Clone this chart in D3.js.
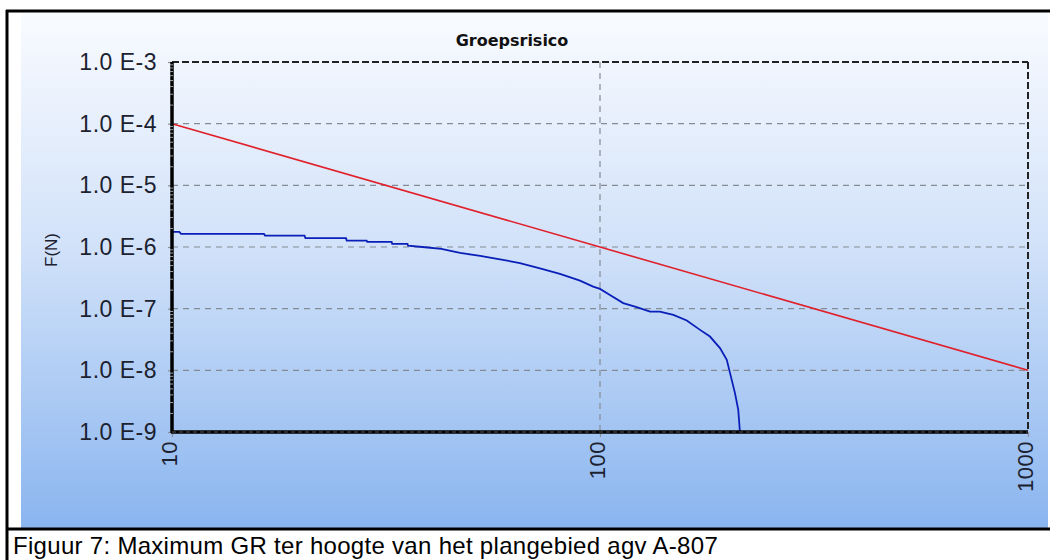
<!DOCTYPE html>
<html><head><meta charset="utf-8">
<script src="https://cdn.jsdelivr.net/npm/d3@7"></script>
<style>body{margin:0;background:#fff}svg{display:block}</style>
</head><body>
<svg id="c" width="1050" height="560"></svg>
<script>
const title = "Groepsrisico";
const yLabel = "F(N)";
const caption = "Figuur 7: Maximum GR ter hoogte van het plangebied agv A-807";
const xTicks = [10, 100, 1000];
const yTicks = [1e-3, 1e-4, 1e-5, 1e-6, 1e-7, 1e-8, 1e-9];
const yTickLabels = ["1.0 E-3","1.0 E-4","1.0 E-5","1.0 E-6","1.0 E-7","1.0 E-8","1.0 E-9"];
// oriëntatiewaarde (red)
const normN = [10, 1000];
const normF = [1e-4, 1e-8];
// groepsrisico curve (blue)
const grN = [10, 10.4, 10.5, 16.4, 16.5, 20.4, 20.5, 25.5, 25.6, 28.5, 28.6, 32.6, 32.7, 35.5, 35.6, 39, 42.6, 47.1, 52.5, 58.4, 65.0, 72.4, 80.6, 89.8, 96.4, 100, 105.5, 113.3, 121.8, 130.9, 138, 148.4, 159.5, 171.3, 180.7, 190.7, 197.8, 201.3, 206.7, 210.4, 212.3];
const grF = [1.76e-6, 1.76e-6, 1.63e-6, 1.63e-6, 1.53e-6, 1.53e-6, 1.39e-6, 1.39e-6, 1.27e-6, 1.27e-6, 1.21e-6, 1.21e-6, 1.12e-6, 1.12e-6, 1.05e-6, 9.9e-7, 9.3e-7, 8.0e-7, 7.2e-7, 6.3e-7, 5.5e-7, 4.5e-7, 3.66e-7, 2.85e-7, 2.28e-7, 2.09e-7, 1.67e-7, 1.23e-7, 1.06e-7, 8.97e-8, 8.97e-8, 7.94e-8, 6.42e-8, 4.53e-8, 3.53e-8, 2.29e-8, 1.48e-8, 9.0e-9, 4.27e-9, 2.29e-9, 1e-9];

const svg = d3.select("#c");
const defs = svg.append("defs");
const g = defs.append("linearGradient").attr("id","bg").attr("x1",0).attr("y1",0).attr("x2",0).attr("y2",1);
g.append("stop").attr("offset","0%").attr("stop-color","#f9fbff");
g.append("stop").attr("offset","45%").attr("stop-color","#d2e2f9");
g.append("stop").attr("offset","100%").attr("stop-color","#8ab5ef");

svg.append("rect").attr("x",21).attr("y",13).attr("width",1027).attr("height",515).attr("fill","url(#bg)");
// frame lines
svg.append("line").attr("x1",7).attr("x2",7).attr("y1",10).attr("y2",560).attr("stroke","#000").attr("stroke-width",3);
svg.append("line").attr("x1",6).attr("x2",1050).attr("y1",11).attr("y2",11).attr("stroke","#000").attr("stroke-width",3);
svg.append("line").attr("x1",6).attr("x2",1050).attr("y1",529).attr("y2",529).attr("stroke","#000").attr("stroke-width",3);

const L = 172, R = 1028, T = 62, B = 432;
const x = d3.scaleLog().domain([10,1000]).range([L,R]);
const y = d3.scaleLog().domain([1e-9,1e-3]).range([B,T]);

// grid
const grid = svg.append("g").attr("stroke","#858b94").attr("stroke-width",1.2).attr("stroke-dasharray","6,5");
yTicks.slice(1,-1).forEach(v => grid.append("line").attr("x1",L).attr("x2",R).attr("y1",y(v)).attr("y2",y(v)));
xTicks.slice(1,-1).forEach(v => grid.append("line").attr("x1",x(v)).attr("x2",x(v)).attr("y1",T).attr("y2",B));
// top/right borders dashed dark
svg.append("line").attr("x1",L).attr("x2",R).attr("y1",T).attr("y2",T).attr("stroke","#222").attr("stroke-width",2).attr("stroke-dasharray","7,3");
svg.append("line").attr("x1",R).attr("x2",R).attr("y1",T).attr("y2",B).attr("stroke","#222").attr("stroke-width",2).attr("stroke-dasharray","7,3");

// lines
const line = d3.line().x(d=>x(d[0])).y(d=>y(d[1]));
svg.append("path").datum(normN.map((n,i)=>[n,normF[i]])).attr("d",line).attr("fill","none").attr("stroke","#e0202a").attr("stroke-width",1.6);
svg.append("path").datum(grN.map((n,i)=>[n,grF[i]])).attr("d",line).attr("fill","none").attr("stroke","#0a1fb8").attr("stroke-width",1.8);

const tickFont = "Liberation Sans, Arial, sans-serif";
// left axis
const yAxis = d3.axisLeft(y).tickValues(yTicks).tickFormat((d,i)=>yTickLabels[i]).tickSize(4).tickPadding(11);
const ya = svg.append("g").attr("transform",`translate(${L},0)`).call(yAxis);
ya.select(".domain").remove();
ya.selectAll(".tick line").attr("stroke","#8a8f98").attr("stroke-width",1.2);
ya.selectAll("text").attr("font-family",tickFont).attr("font-size",23).attr("letter-spacing","0.5px").attr("fill","#1c2230");
svg.append("line").attr("x1",L).attr("x2",L).attr("y1",T).attr("y2",B+1).attr("stroke","#000").attr("stroke-width",3.5);
// minor ticks on left axis
const minors = [];
for (let e=-9; e<-3; e++) for (let m=2; m<10; m++) minors.push(m*Math.pow(10,e));
svg.append("g").selectAll("line").data(minors).join("line").attr("x1",L-2).attr("x2",L+1).attr("y1",d=>y(d)).attr("y2",d=>y(d)).attr("stroke","#9aa0a8").attr("stroke-width",1);

// bottom axis
const xAxis = d3.axisBottom(x).tickValues(xTicks).tickFormat(d3.format("d")).tickSize(5).tickPadding(4);
const xa = svg.append("g").attr("transform",`translate(0,${B})`).call(xAxis);
xa.select(".domain").remove();
xa.selectAll(".tick line").attr("stroke","#8a8f98").attr("stroke-width",1.2);
xa.selectAll("text").attr("font-family",tickFont).attr("font-size",22).attr("letter-spacing","0.5px").attr("fill","#1c2230")
  .attr("transform","rotate(-90)").attr("text-anchor","end").attr("x",-9).attr("y",-3).attr("dy","0.33em");
svg.append("line").attr("x1",L-1).attr("x2",R).attr("y1",B).attr("y2",B).attr("stroke","#000").attr("stroke-width",3.5);
svg.append("line").attr("x1",L).attr("x2",R).attr("y1",B).attr("y2",B).attr("stroke","#555").attr("stroke-width",1).attr("stroke-dasharray","4,3");

// title
svg.append("text").attr("x",512).attr("y",46).attr("text-anchor","middle").attr("font-family","DejaVu Sans, Verdana, sans-serif").attr("font-weight","bold").attr("font-size",16).attr("fill","#111").text(title);
// y label
svg.append("text").attr("transform","translate(57,250) rotate(-90)").attr("text-anchor","middle").attr("font-family",tickFont).attr("font-size",17).attr("fill","#1c2230").text(yLabel);
// caption
svg.append("text").attr("x",13).attr("y",554).attr("font-family",tickFont).attr("font-size",24).attr("letter-spacing","0.3px").attr("fill","#000").text(caption);
</script>
</body></html>
